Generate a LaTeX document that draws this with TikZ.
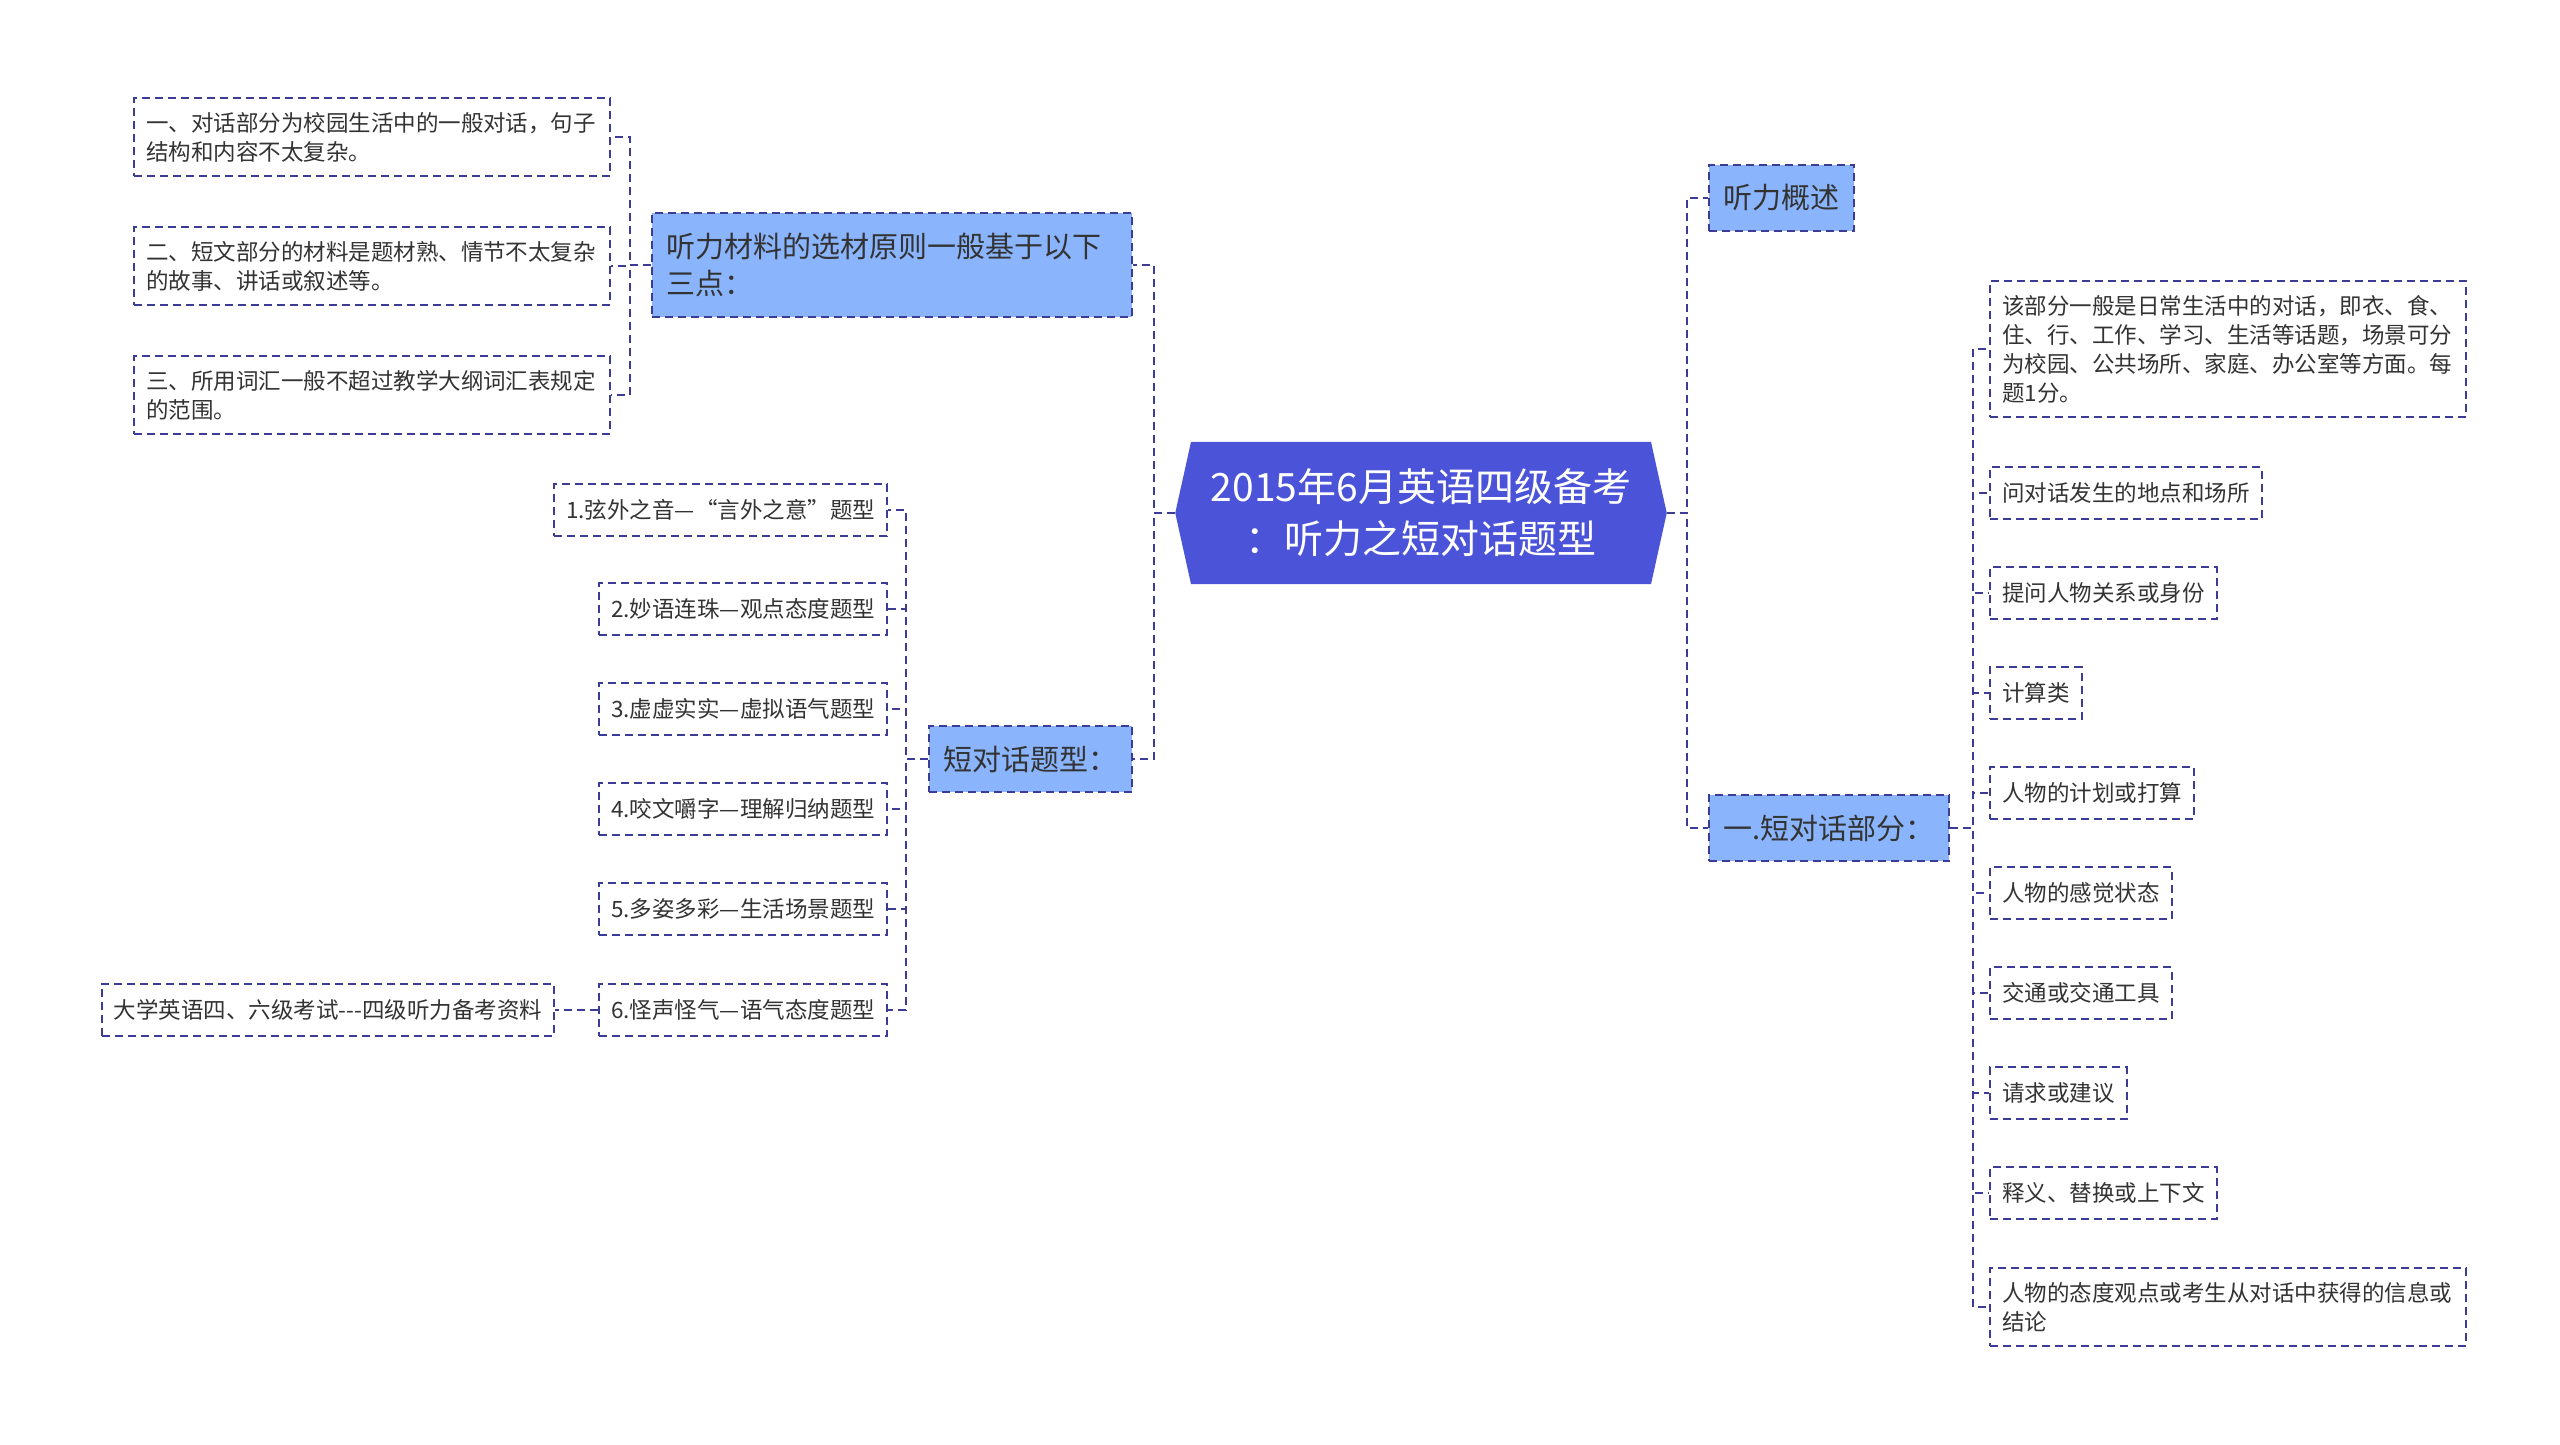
\documentclass[tikz,border=0pt]{standalone}
\usepackage{fontspec}
\setmainfont{Noto Sans CJK SC}
\usetikzlibrary{shapes.symbols}

\definecolor{hubblue}{RGB}{75,84,216}
\definecolor{topicblue}{RGB}{138,180,252}
\definecolor{linkblue}{RGB}{60,60,150}
\definecolor{ink}{RGB}{51,51,51}

\begin{document}
\begin{tikzpicture}[
    x=1pt, y=-1pt,
    hub/.style={signal, signal to=west and east, signal pointer angle=155,
        fill=hubblue, text=white, font=\fontsize{39}{52}\selectfont,
        align=center, text width=430pt, inner xsep=15pt, inner ysep=27pt},
    topic/.style={draw=linkblue, fill=topicblue, dash pattern=on 8pt off 5pt,
        line width=2pt, text=ink, font=\fontsize{29}{37.5}\selectfont,
        align=left, inner xsep=14.5pt, inner ysep=20pt},
    leaf/.style={draw=linkblue, fill=white, dash pattern=on 8pt off 5pt,
        line width=2pt, text=ink, font=\fontsize{22.5}{29}\selectfont,
        align=left, inner xsep=12pt, inner ysep=14pt, minimum height=52pt},
    link/.style={draw=linkblue, dash pattern=on 8pt off 5pt, line width=2pt}
]
\useasboundingbox (0,0) rectangle (2560,1445);

% centre
\node[hub] (main) at (1421,513) {2015年6月英语四级备考\\：听力之短对话题型};

% left topics
\node[topic, text width=451pt, anchor=east] (pick) at (1133,265) {听力材料的选材原则一般基于以下\\三点：};
\node[topic, anchor=east] (types) at (1133,759) {短对话题型：};

% selection principles
\node[leaf, text width=452pt, anchor=east] (pA) at (611,137) {一、对话部分为校园生活中的一般对话，句子\\结构和内容不太复杂。};
\node[leaf, text width=452pt, anchor=east] (pB) at (611,266) {二、短文部分的材料是题材熟、情节不太复杂\\的故事、讲话或叙述等。};
\node[leaf, text width=452pt, anchor=east] (pC) at (611,395) {三、所用词汇一般不超过教学大纲词汇表规定\\的范围。};

% question types
\node[leaf, anchor=east] (t1) at (888,510)  {1.弦外之音—“言外之意”题型};
\node[leaf, anchor=east] (t2) at (888,609)  {2.妙语连珠—观点态度题型};
\node[leaf, anchor=east] (t3) at (888,709)  {3.虚虚实实—虚拟语气题型};
\node[leaf, anchor=east] (t4) at (888,809)  {4.咬文嚼字—理解归纳题型};
\node[leaf, anchor=east] (t5) at (888,909)  {5.多姿多彩—生活场景题型};
\node[leaf, anchor=east] (t6) at (888,1010) {6.怪声怪气—语气态度题型};
\node[leaf, anchor=east] (src) at (555,1010) {大学英语四、六级考试-{}-{}-四级听力备考资料};

% right topics
\node[topic, anchor=west] (intro) at (1708,198) {听力概述};
\node[topic, anchor=west] (part)  at (1708,828) {一.短对话部分：};

% dialogue part
\node[leaf, text width=452pt, anchor=west] (d0) at (1989,349) {该部分一般是日常生活中的对话，即衣、食、\\住、行、工作、学习、生活等话题，场景可分\\为校园、公共场所、家庭、办公室等方面。每\\题1分。};
\node[leaf, anchor=west] (d1) at (1989,493)  {问对话发生的地点和场所};
\node[leaf, anchor=west] (d2) at (1989,593)  {提问人物关系或身份};
\node[leaf, anchor=west] (d3) at (1989,693)  {计算类};
\node[leaf, anchor=west] (d4) at (1989,793)  {人物的计划或打算};
\node[leaf, anchor=west] (d5) at (1989,893)  {人物的感觉状态};
\node[leaf, anchor=west] (d6) at (1989,993)  {交通或交通工具};
\node[leaf, anchor=west] (d7) at (1989,1093) {请求或建议};
\node[leaf, anchor=west] (d8) at (1989,1193) {释义、替换或上下文};
\node[leaf, text width=452pt, anchor=west] (d9) at (1989,1307) {人物的态度观点或考生从对话中获得的信息或\\结论};

% left links
\foreach \n in {pick,types}
    \draw[link] (main.west) -- ++(-21,0) |- (\n.east);
\foreach \n in {pA,pB,pC}
    \draw[link] (pick.west) -- ++(-21,0) |- (\n.east);
\foreach \n in {t1,t2,t3,t4,t5,t6}
    \draw[link] (types.west) -- ++(-22,0) |- (\n.east);
\draw[link] (t6.west) -- (src.east);

% right links
\foreach \n in {intro,part}
    \draw[link] (main.east) -- ++(20,0) |- (\n.west);
\foreach \n in {d0,d1,d2,d3,d4,d5,d6,d7,d8,d9}
    \draw[link] (part.east) -- ++(23,0) |- (\n.west);

\end{tikzpicture}
\end{document}
